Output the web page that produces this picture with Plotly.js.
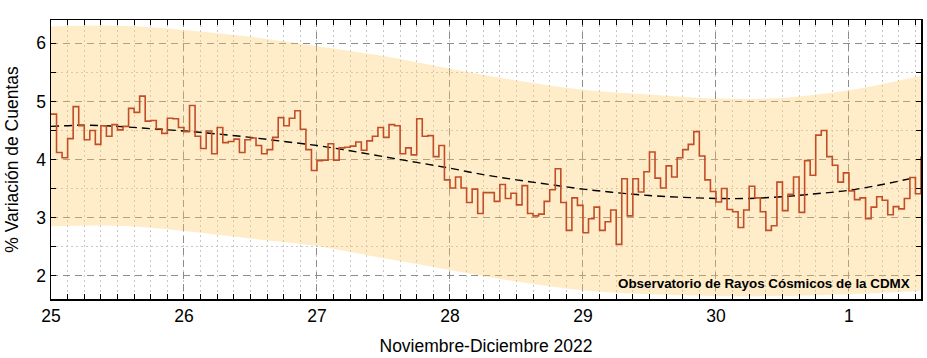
<!DOCTYPE html>
<html>
<head>
<meta charset="utf-8">
<script src="https://cdn.plot.ly/plotly-3.0.1.min.js"></script>
<style>html,body{margin:0;padding:0;background:#fff;}#chart{width:927px;height:358px;}</style>
</head>
<body>
<div id="chart"></div>
<script>
// Hourly counts variation (%) starting 25 Nov 2022 00:00
const startDay = 25;
const hourlyValues = [
 4.78,4.12,4.03,4.36,4.91,4.58,4.34,4.50,4.26,4.58,4.40,4.60,4.51,4.57,4.88,4.81,5.09,4.66,4.67,4.53,4.45,4.71,4.70,4.55,
 4.48,4.93,4.40,4.19,4.49,4.10,4.55,4.29,4.31,4.35,4.12,4.34,4.37,4.24,4.10,4.17,4.38,4.72,4.58,4.71,4.84,4.52,4.17,3.81,
 3.98,3.99,4.27,3.99,4.20,4.21,4.23,4.30,4.16,4.32,4.40,4.55,4.38,4.60,4.58,4.10,4.20,4.08,4.70,4.40,4.41,4.05,4.24,3.65,
 3.51,3.70,3.51,3.26,3.49,3.07,3.43,3.43,3.28,3.57,3.33,3.42,3.22,3.55,3.07,3.03,3.06,3.28,3.48,3.84,3.26,2.78,3.34,3.21,
 2.74,2.98,3.18,2.78,2.93,3.13,2.54,3.67,3.03,3.67,3.44,3.79,4.13,3.68,3.51,3.89,3.70,4.03,4.17,4.26,4.48,4.06,3.65,3.45,
 3.27,3.50,3.14,3.10,2.83,3.13,3.54,3.34,3.10,2.78,2.86,3.61,3.12,3.40,3.70,3.09,3.98,3.73,4.42,4.50,4.05,3.90,3.61,3.77,
 3.46,3.31,3.34,2.98,3.18,3.36,3.30,3.05,3.19,3.15,3.33,3.69,3.41,4.05
];
const hourlyX = hourlyValues.map((v, i) => startDay + i / 24);

// Trend (dashed) curve
const trendX = [25,25.25,25.5,25.75,26,26.25,26.5,26.75,27,27.25,27.5,27.75,28,28.25,28.5,28.75,29,29.25,29.5,29.75,30,30.25,30.5,30.75,31,31.25,31.5];
const trendY = [4.57,4.59,4.57,4.53,4.49,4.44,4.38,4.31,4.24,4.15,4.05,3.95,3.85,3.74,3.65,3.57,3.49,3.43,3.38,3.35,3.33,3.33,3.36,3.41,3.47,3.57,3.69];

// Band limits
const bandX = [25,25.5,26,26.5,27,27.5,28,28.5,29,29.5,30,30.5,31,31.5417];
const bandUpper = [6.29,6.30,6.23,6.11,5.95,5.78,5.56,5.36,5.20,5.12,5.05,5.06,5.19,5.44];
const bandLower = [2.85,2.86,2.77,2.64,2.51,2.30,2.10,1.90,1.75,1.68,1.65,1.65,1.68,1.74];

const tickVals = [25,26,27,28,29,30,31];
const tickText = ['25','26','27','28','29','30','1'];

const FONT = 'Liberation Sans, Arial, sans-serif';

const traces = [
  {x: bandX, y: bandLower, type: 'scatter', mode: 'lines', line: {width: 0, shape: 'spline', color: 'rgba(0,0,0,0)'}, hoverinfo: 'skip', showlegend: false},
  {x: bandX, y: bandUpper, type: 'scatter', mode: 'lines', fill: 'tonexty', fillcolor: 'rgba(252,202,95,0.34)', line: {width: 0, shape: 'spline', color: 'rgba(0,0,0,0)'}, hoverinfo: 'skip', showlegend: false},
  {x: trendX, y: trendY, type: 'scatter', mode: 'lines', line: {color: '#000', width: 1.4, dash: '8px,5px', shape: 'spline'}, showlegend: false},
  {x: hourlyX, y: hourlyValues, type: 'scatter', mode: 'lines', line: {color: '#c24e28', width: 1.6, shape: 'hv'}, showlegend: false}
];

const layout = {
  width: 927, height: 358,
  margin: {l: 51, r: 6, t: 20, b: 59},
  paper_bgcolor: '#fff', plot_bgcolor: '#fff',
  font: {family: FONT, size: 17.5, color: '#000'},
  showlegend: false,
  xaxis: {
    range: [25, 31.5417],
    tickmode: 'array', tickvals: tickVals, ticktext: tickText,
    ticks: 'inside', ticklen: 5, tickwidth: 1, tickcolor: '#000',
    showline: true, linecolor: '#000', linewidth: 1.5, mirror: 'allticks',
    showgrid: true, gridcolor: '#8c8c8c', gridwidth: 1, griddash: '7px,5px',
    zeroline: false,
    minor: {tickmode: 'linear', tick0: 25, dtick: 0.125, ticks: 'inside', ticklen: 5, tickcolor: '#000', showgrid: true, gridcolor: '#c8c8c8', griddash: '2px,3px', gridwidth: 1},
    tickfont: {size: 17.5, family: FONT},
    title: {text: 'Noviembre-Diciembre 2022', font: {size: 17.5, family: FONT}, standoff: 15}
  },
  yaxis: {
    range: [1.6, 6.4],
    tickmode: 'linear', tick0: 2, dtick: 1,
    ticks: 'inside', ticklen: 5, tickwidth: 1, tickcolor: '#000',
    showline: true, linecolor: '#000', linewidth: 1.5, mirror: 'allticks',
    showgrid: true, gridcolor: '#8c8c8c', gridwidth: 1, griddash: '7px,5px',
    zeroline: false,
    minor: {tickmode: 'linear', tick0: 1.5, dtick: 0.5, ticks: 'inside', ticklen: 5, tickcolor: '#000', showgrid: true, gridcolor: '#c8c8c8', griddash: '2px,3px', gridwidth: 1},
    tickfont: {size: 17.5, family: FONT},
    title: {text: '% Variación de Cuentas', font: {size: 17.5, family: FONT}, standoff: 13}
  },
  annotations: [{
    text: '<b>Observatorio de Rayos Cósmicos de la CDMX</b>',
    xref: 'paper', yref: 'paper', x: 0.9897, y: 0.054,
    xanchor: 'right', yanchor: 'middle', showarrow: false,
    font: {size: 13.4, family: FONT, color: '#000'}
  }]
};

Plotly.newPlot('chart', traces, layout, {displayModeBar: false, staticPlot: true});
</script>
</body>
</html>
